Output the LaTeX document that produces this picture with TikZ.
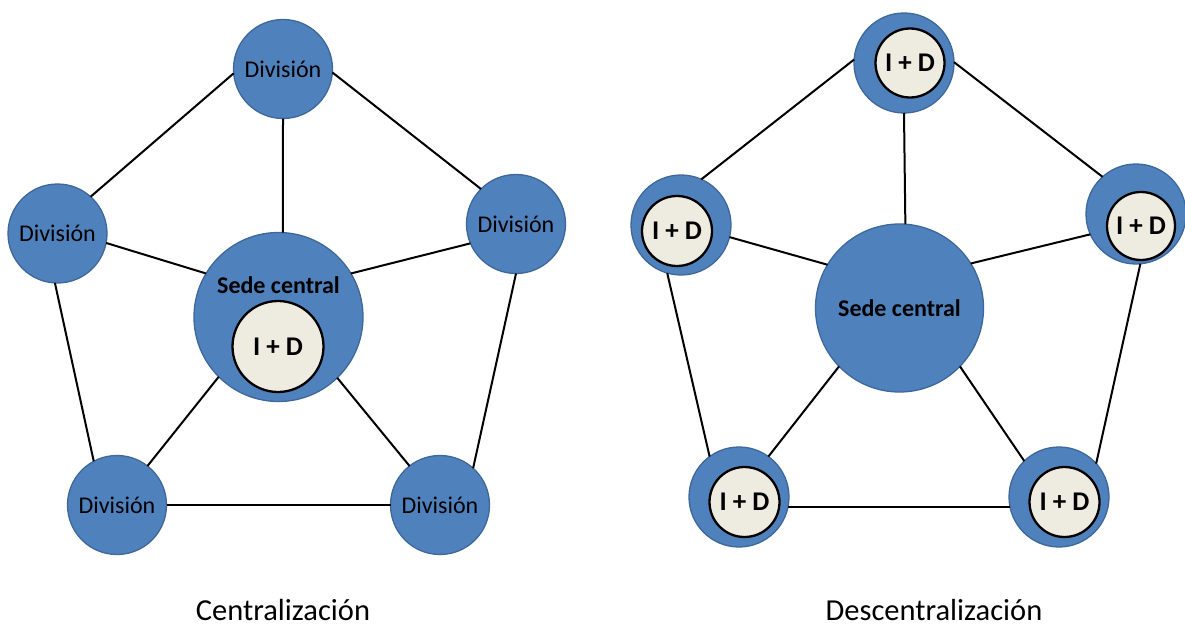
\documentclass[tikz,border=0pt]{standalone}
\usepackage{fontspec}
\setmainfont{Carlito}
\definecolor{nodeblue}{HTML}{4F81BD}
\definecolor{nodeedge}{HTML}{3D6899}
\definecolor{idfill}{HTML}{EEECE1}
\begin{document}
\begin{tikzpicture}[x=1pt,y=-1pt,
  div/.style={circle,fill=nodeblue,draw=nodeedge,line width=1.3pt,minimum size=99pt,inner sep=0pt,outer sep=0pt,font=\fontsize{24}{25}\selectfont},
  sede/.style={circle,fill=nodeblue,draw=nodeedge,line width=1.3pt,minimum size=169pt,inner sep=0pt,outer sep=0pt},
  idc/.style={circle,fill=idfill,draw=black,line width=2.3pt,inner sep=0pt,outer sep=0pt,font=\bfseries\fontsize{27}{28}\selectfont},
  link/.style={draw=black,line width=2pt},
  caption/.style={font=\fontsize{30.5}{32}\selectfont}]
\useasboundingbox (0,0) rectangle (1185,626);
% ---------- Centralizacion ----------
\node[div] (T) at (283,69) {División};
\node[div] (L) at (57.5,233.5) {División};
\node[div] (R) at (516,224) {División};
\node[div] (BL) at (117,505) {División};
\node[div] (BR) at (440,505) {División};
\node[sede] (S) at (278.5,317) {};
\node[font=\bfseries\fontsize{24}{25}\selectfont] (Stext) at (278.5,285) {Sede central};
\node[idc,minimum size=91pt] (SID) at (278,346.5) {I + D};
\draw[link] (T.185) -- (L.48);
\draw[link] (T.-4) -- (R.135);
\draw[link] (T.270) -- (S.87.6);
\draw[link] (L.-11) -- (S.149);
\draw[link] (R.203) -- (S.31);
\draw[link] (L.267) -- (BL.118);
\draw[link] (R.270) -- (BR.48);
\draw[link] (BL.0) -- (BR.180);
\draw[link] (S.225) -- (BL.52);
\draw[link] (S.314.5) -- (BR.128);
\node[caption] (C1) at (283,610) {Centralización};
% ---------- Descentralizacion ----------
\node[div,minimum size=100pt] (T2) at (904,63) {};
\node[div,minimum size=100pt] (L2) at (681,225) {};
\node[div,minimum size=100pt] (R2) at (1136,214) {};
\node[div,minimum size=100pt] (BL2) at (739,497) {};
\node[div,minimum size=100pt] (BR2) at (1059,497) {};
\node[sede,minimum size=168pt,font=\bfseries\fontsize{24}{25}\selectfont] (S2) at (899.5,308) {Sede central};
\node[idc,minimum size=69pt] (T2ID) at (910,63) {I + D};
\node[idc,minimum size=70pt] (L2ID) at (677,231) {I + D};
\node[idc,minimum size=68pt] (R2ID) at (1141,226) {I + D};
\node[idc,minimum size=70pt] (BL2ID) at (744.5,502) {I + D};
\node[idc,minimum size=70pt] (BR2ID) at (1064.5,502) {I + D};
\draw[link] (T2.176) -- (L2.66);
\draw[link] (T2.1) -- (R2.132);
\draw[link] (T2.270) -- (S2.86.6);
\draw[link] (L2.-14) -- (S2.149);
\draw[link] (R2.204) -- (S2.32);
\draw[link] (L2.254) -- (BL2.126);
\draw[link] (R2.-85.5) -- (BR2.42);
\draw[link] (BL2.-11) -- (BR2.191);
\draw[link] (S2.224.5) -- (BL2.54);
\draw[link] (S2.-44) -- (BR2.134);
\node[caption] (C2) at (934,610) {Descentralización};
\end{tikzpicture}
\end{document}
